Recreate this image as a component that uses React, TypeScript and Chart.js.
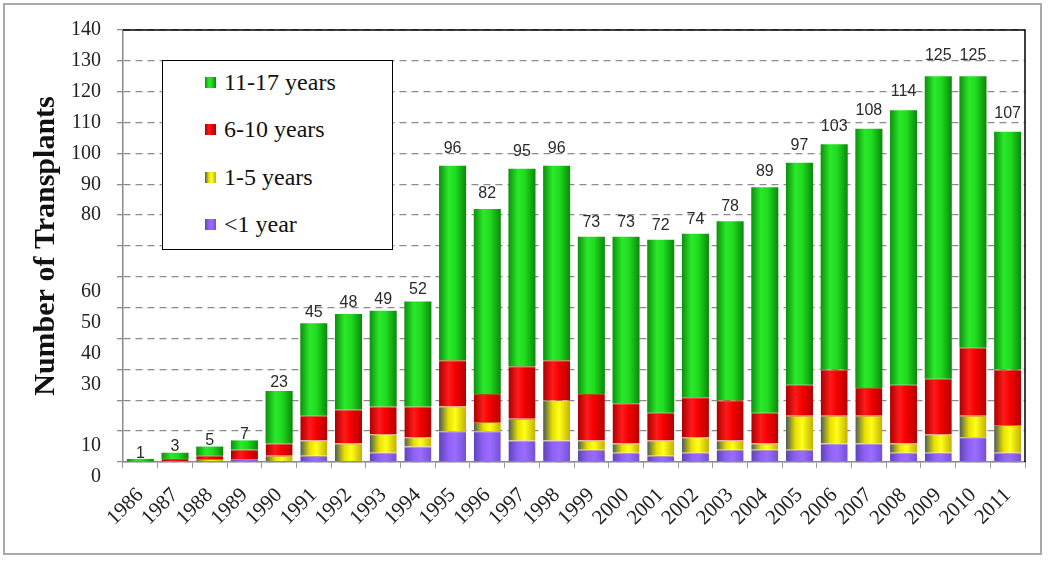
import React, { useEffect, useRef } from 'react';
import { Chart, registerables } from 'chart.js';

Chart.register(...registerables);

const years = ['1986', '1987', '1988', '1989', '1990', '1991', '1992', '1993', '1994', '1995', '1996', '1997', '1998', '1999', '2000', '2001', '2002', '2003', '2004', '2005', '2006', '2007', '2008', '2009', '2010', '2011'];
const underOne = [0, 0, 0, 1, 0, 2, 0, 3, 5, 10, 10, 7, 7, 4, 3, 2, 3, 4, 4, 4, 6, 6, 3, 3, 8, 3];
const oneToFive = [0, 0, 1, 0, 2, 5, 6, 6, 3, 8, 3, 7, 13, 3, 3, 5, 5, 3, 2, 11, 9, 9, 3, 6, 7, 9];
const sixToTen = [0, 1, 1, 3, 4, 8, 11, 9, 10, 15, 9, 17, 13, 15, 13, 9, 13, 13, 10, 10, 15, 9, 19, 18, 22, 18];
const elevenToSeventeen = [1, 2, 3, 3, 17, 30, 31, 31, 34, 63, 60, 64, 63, 51, 54, 56, 53, 58, 73, 72, 73, 84, 89, 98, 88, 77];
const totals = [1, 3, 5, 7, 23, 45, 48, 49, 52, 96, 82, 95, 96, 73, 73, 72, 74, 78, 89, 97, 103, 108, 114, 125, 125, 107];
const upperTickLabels = [80, 90, 100, 110, 120, 130, 140];
const lowerTickLabels = [0, 10, 30, 40, 50, 60];
const seriesLabels = ['<1 year', '1-5 years', '6-10 years', '11-17 years'];

const BAR_PCT = 0.78;
const SERIF = "'Liberation Serif', 'Times New Roman', serif";

const stopsPurple = ['#5e43b8', '#8f62f5', '#9a6cff', '#7450d6'];
const stopsYellow = ['#4a5a58', '#e8e000', '#ffff1a', '#c2b000'];
const stopsRed = ['#a80000', '#ff1a1a', '#f40000', '#b40000'];
const stopsGreen = ['#0c900c', '#2ae82a', '#20dc20', '#0a880a'];

function makeFill(stops: string[]) {
  return (c: any) => {
    const chart = c.chart;
    const xs = chart.scales && chart.scales.x;
    if (c.type !== 'data' || !xs || !chart.chartArea) return stops[2];
    const cx = xs.getPixelForValue(c.dataIndex);
    const w = (xs.width / years.length) * BAR_PCT;
    const g = chart.ctx.createLinearGradient(cx - w / 2, 0, cx + w / 2, 0);
    g.addColorStop(0, stops[0]);
    g.addColorStop(0.35, stops[1]);
    g.addColorStop(0.6, stops[2]);
    g.addColorStop(1, stops[3]);
    return g;
  };
}

function cssGrad(stops: string[]) {
  return `linear-gradient(to right, ${stops[0]} 0%, ${stops[1]} 35%, ${stops[2]} 60%, ${stops[3]} 100%)`;
}

const totalsPlugin = {
  id: 'totalsLabels',
  afterDatasetsDraw(chart: any) {
    const { ctx } = chart;
    const xs = chart.scales.x;
    const ys = chart.scales.y;
    ctx.save();
    ctx.font = "16px 'Liberation Sans', Arial, sans-serif";
    ctx.fillStyle = '#2a2a2a';
    ctx.textAlign = 'center';
    ctx.textBaseline = 'alphabetic';
    totals.forEach((t, i) => {
      const px = xs.getPixelForValue(i);
      const py = ys.getPixelForValue(t) - t * 0.12 - 1;
      ctx.fillText(String(t), px, py);
    });
    ctx.restore();
  },
};

const framePlugin = {
  id: 'plotFrame',
  afterDraw(chart: any) {
    const { ctx, chartArea } = chart;
    ctx.save();
    ctx.strokeStyle = '#000';
    ctx.lineWidth = 1.5;
    ctx.beginPath();
    ctx.moveTo(chartArea.left, chartArea.top);
    ctx.lineTo(chartArea.right, chartArea.top);
    ctx.lineTo(chartArea.right, chartArea.bottom);
    ctx.stroke();
    ctx.restore();
  },
};

export default function App() {
  const ref = useRef<HTMLCanvasElement | null>(null);

  useEffect(() => {
    if (!ref.current) return;
    const chart = new Chart(ref.current, {
      type: 'bar',
      data: {
        labels: years,
        datasets: [
          { label: seriesLabels[0], data: underOne, backgroundColor: makeFill(stopsPurple), borderWidth: { top: 1, left: 0, right: 0, bottom: 0 }, borderColor: '#b08a6a', borderSkipped: false },
          { label: seriesLabels[1], data: oneToFive, backgroundColor: makeFill(stopsYellow), borderWidth: { top: 1, left: 0, right: 0, bottom: 0 }, borderColor: '#d07020', borderSkipped: false },
          { label: seriesLabels[2], data: sixToTen, backgroundColor: makeFill(stopsRed), borderWidth: { top: 1, left: 0, right: 0, bottom: 0 }, borderColor: '#b05010', borderSkipped: false },
          { label: seriesLabels[3], data: elevenToSeventeen, backgroundColor: makeFill(stopsGreen), borderWidth: 0 },
        ],
      },
      options: {
        responsive: false,
        animation: false,
        layout: { padding: { left: 20, top: 30, right: 25, bottom: 20 } },
        plugins: { legend: { display: false }, tooltip: { enabled: false } },
        datasets: { bar: { categoryPercentage: 1, barPercentage: BAR_PCT } },
        scales: {
          x: {
            stacked: true,
            grid: { display: true, drawOnChartArea: false, drawTicks: true, tickLength: 6, color: '#999', lineWidth: 1 },
            border: { display: true, color: '#8a8a8a', width: 1.5 },
            ticks: { autoSkip: false, minRotation: 45, maxRotation: 45, color: '#222', font: { family: SERIF, size: 21 }, padding: 15 },
            afterFit: (s: any) => { s.height = 84; },
          },
          y: {
            stacked: true,
            min: 0,
            max: 140,
            weight: 1,
            ticks: {
              stepSize: 10,
              autoSkip: false,
              color: '#222',
              font: { family: SERIF, size: 20 },
              padding: 16,
              callback: (v: any) => (upperTickLabels.includes(Number(v)) ? String(v) : ''),
            },
            grid: { color: '#8c8c8c', lineWidth: 1.3, tickLength: 6, drawTicks: true },
            border: { display: true, color: '#8a8a8a', width: 1.5, dash: [7, 5] },
            title: {
              display: true,
              text: 'Number of Transplants',
              color: '#111',
              font: { family: SERIF, size: 30, weight: 'bold' },
              padding: { top: 8, bottom: 0 },
            },
            afterFit: (s: any) => { s.width = 103; },
          },
          y2: {
            position: 'left',
            min: 0,
            max: 140,
            weight: 0,
            ticks: {
              stepSize: 10,
              autoSkip: false,
              labelOffset: 15,
              mirror: true,
              crossAlign: 'far',
              padding: -42,
              color: '#222',
              font: { family: SERIF, size: 20 },
              callback: (v: any) => (lowerTickLabels.includes(Number(v)) ? String(v) : ''),
            },
            grid: { display: false, drawTicks: false },
            border: { display: false },
            afterFit: (s: any) => { s.width = 0; },
          },
        },
      } as any,
      plugins: [totalsPlugin, framePlugin],
    });
    return () => chart.destroy();
  }, []);

  const legendItems = [
    { label: seriesLabels[3], stops: stopsGreen },
    { label: seriesLabels[2], stops: stopsRed },
    { label: seriesLabels[1], stops: stopsYellow },
    { label: seriesLabels[0], stops: stopsPurple },
  ];

  return (
    <div style={{ position: 'fixed', left: 0, top: 0, width: 1050, height: 566, background: '#fff', overflow: 'hidden' }}>
      <canvas ref={ref} width={1050} height={566} style={{ position: 'absolute', left: 0, top: 0, width: 1050, height: 566 }} />
      <div style={{ position: 'absolute', left: 3, top: 3, width: 1039, height: 552, border: '2px solid #a9a9a9', boxSizing: 'border-box', pointerEvents: 'none' }} />
      <div style={{ position: 'absolute', left: 162, top: 60, width: 231, height: 190, border: '1.5px solid #000', background: '#fff', boxSizing: 'border-box' }}>
        {legendItems.map((it, k) => (
          <div
            key={it.label}
            style={{
              position: 'absolute',
              left: 42,
              top: 8 + k * 47.5,
              height: 26,
              display: 'flex',
              alignItems: 'center',
              fontFamily: SERIF,
              fontSize: 24,
              color: '#111',
              whiteSpace: 'nowrap',
            }}
          >
            <span style={{ display: 'inline-block', width: 11, height: 11, background: cssGrad(it.stops), marginRight: 8 }} />
            {it.label}
          </div>
        ))}
      </div>
    </div>
  );
}
